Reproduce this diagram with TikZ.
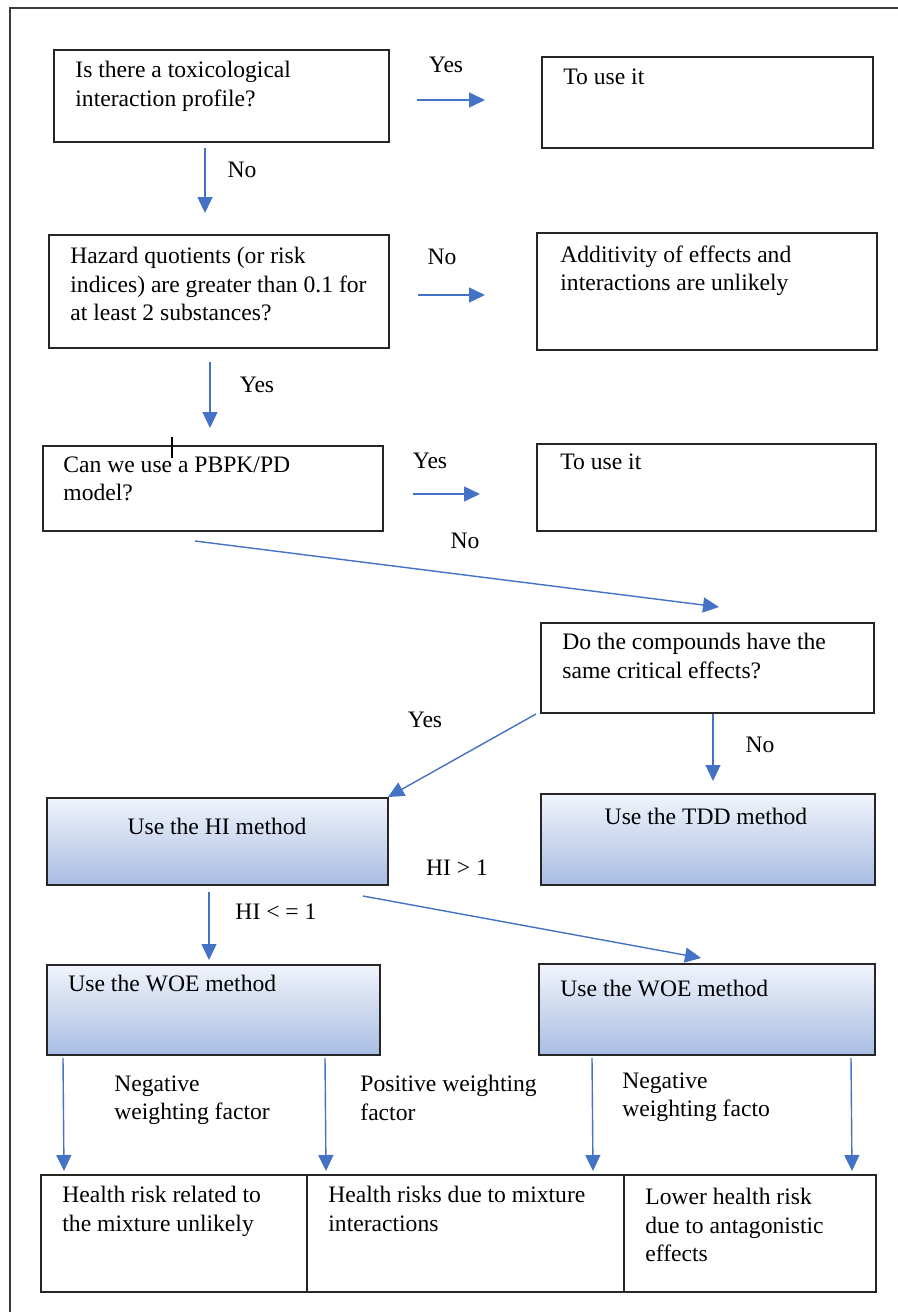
\documentclass[tikz,border=0pt]{standalone}
\usepackage{fontspec}
\setmainfont{Liberation Serif}
\usetikzlibrary{arrows.meta,fit}
\definecolor{flowblue}{HTML}{4472C4}
\definecolor{frame}{HTML}{3A3A3A}
\definecolor{gradtop}{HTML}{F1F4FB}
\definecolor{gradbot}{HTML}{A8BDE2}
\tikzset{
  box/.style={draw=black!85, line width=1pt, inner sep=0pt},
  gbox/.style={box, top color=gradtop, bottom color=gradbot},
  txt/.style={font=\fontsize{11.8}{14.2}\selectfont, align=left, inner sep=0pt, anchor=north west},
  lbl/.style={font=\fontsize{11.8}{14.2}\selectfont, inner sep=0pt},
  flow/.style={draw=flowblue, line width=0.7pt, -{Triangle[length=8pt,width=7.5pt]}}
}
\begin{document}
\begin{tikzpicture}[x=0.5pt,y=-0.5pt]
\useasboundingbox (0,0) rectangle (898,1312);
% page frame
\draw[frame, line width=1pt] (10,1312) -- (10,8) -- (898,8);

% question boxes and outcomes
\node[box, fit={(54,50) (389,142)}] (q1) {};
\node[txt] (q1t) at (75,61) {Is there a toxicological\\interaction profile?};
\node[box, fit={(542,57) (873,148)}] (use1) {};
\node[txt] (use1t) at (563,68) {To use it};

\node[box, fit={(49,235) (389,348)}] (q2) {};
\node[txt] (q2t) at (70,247) {Hazard quotients (or risk\\indices) are greater than 0.1 for\\at least 2 substances?};
\node[box, fit={(537,233) (877,350)}] (add) {};
\node[txt] (addt) at (560,245) {Additivity of effects and\\interactions are unlikely};

\node[box, fit={(43,446) (383,531)}] (q3) {};
\node[txt] (q3t) at (63,456) {Can we use a PBPK/PD\\model?};
\node[box, fit={(537,444) (876,531)}] (use2) {};
\node[txt] (use2t) at (560,453) {To use it};
\coordinate (tickA) at (172,437);
\coordinate (tickB) at (172,458);
\draw[black, line width=0.6pt] (tickA) -- (tickB);

\node[box, fit={(541,623) (874,713)}] (q4) {};
\node[txt] (q4t) at (562,633) {Do the compounds have the\\same critical effects?};

% method boxes
\node[gbox, fit={(47,798) (388,885)}] (hi) {};
\node[lbl] (hit) at (217,826) {Use the HI method};
\node[gbox, fit={(541,794) (875,885)}] (tdd) {};
\node[lbl] (tddt) at (706,816) {Use the TDD method};
\node[gbox, fit={(47,965) (380,1055)}] (woe1) {};
\node[txt] (woe1t) at (68,975) {Use the WOE method};
\node[gbox, fit={(539,964) (875,1055)}] (woe2) {};
\node[txt] (woe2t) at (560,980) {Use the WOE method};

% result boxes
\node[box, fit={(41,1175) (307,1292)}] (r1) {};
\node[txt] (r1t) at (62,1186) {Health risk related to\\the mixture unlikely};
\node[box, fit={(307,1175) (624,1292)}] (r2) {};
\node[txt] (r2t) at (328,1186) {Health risks due to mixture\\interactions};
\node[box, fit={(624,1175) (876,1292)}] (r3) {};
\node[txt] (r3t) at (645,1188) {Lower health risk\\due to antagonistic\\effects};

% connectors
\coordinate (a1s) at (417,100); \coordinate (a1e) at (485,100);
\draw[flow] (a1s) -- (a1e);
\node[lbl] (yes1) at (446,65) {Yes};
\coordinate (a2s) at (205,148); \coordinate (a2e) at (205,213);
\draw[flow] (a2s) -- (a2e);
\node[lbl] (no1) at (242,170) {No};

\coordinate (a3s) at (418,295); \coordinate (a3e) at (485,295);
\draw[flow] (a3s) -- (a3e);
\node[lbl] (no2) at (442,257) {No};
\coordinate (a4s) at (210,362); \coordinate (a4e) at (210,428);
\draw[flow] (a4s) -- (a4e);
\node[lbl] (yes2) at (257,385) {Yes};

\coordinate (a5s) at (413,494); \coordinate (a5e) at (480,494);
\draw[flow] (a5s) -- (a5e);
\node[lbl] (yes3) at (430,461) {Yes};
\coordinate (a6s) at (195,541); \coordinate (a6e) at (719,607);
\draw[flow] (a6s) -- (a6e);
\node[lbl] (no3) at (465,541) {No};

\coordinate (a7s) at (536,714); \coordinate (a7e) at (388,797);
\draw[flow] (a7s) -- (a7e);
\node[lbl] (yes4) at (425,720) {Yes};
\coordinate (a8s) at (713,714); \coordinate (a8e) at (713,781);
\draw[flow] (a8s) -- (a8e);
\node[lbl] (no4) at (760,745) {No};

\coordinate (a9s) at (209,892); \coordinate (a9e) at (209,960);
\draw[flow] (a9s) -- (a9e);
\node[lbl] (hile) at (276,912) {HI < = 1};
\coordinate (a10s) at (363,896); \coordinate (a10e) at (701,958);
\draw[flow] (a10s) -- (a10e);
\node[lbl] (higt) at (457,868) {HI > 1};

\coordinate (b1s) at (63,1058); \coordinate (b1e) at (64,1171);
\draw[flow] (b1s) -- (b1e);
\coordinate (b2s) at (325,1058); \coordinate (b2e) at (326,1171);
\draw[flow] (b2s) -- (b2e);
\coordinate (b3s) at (592,1058); \coordinate (b3e) at (593,1171);
\draw[flow] (b3s) -- (b3e);
\coordinate (b4s) at (851,1058); \coordinate (b4e) at (852,1171);
\draw[flow] (b4s) -- (b4e);
\node[txt] (neg1) at (114,1075) {Negative\\weighting factor};
\node[txt] (pos1) at (360,1075) {Positive weighting\\factor};
\node[txt] (neg2) at (622,1072) {Negative\\weighting facto};
\end{tikzpicture}
\end{document}
